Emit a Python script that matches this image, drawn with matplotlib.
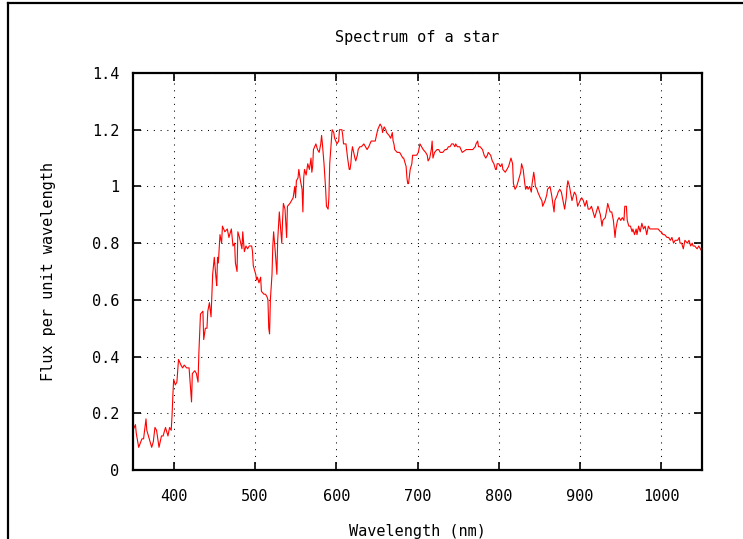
"""Spectrum of a star: flux per unit wavelength, gnuplot-like styling."""

import matplotlib

matplotlib.use("Agg")
import matplotlib.pyplot as plt
import matplotlib.ticker as mticker
from matplotlib.lines import Line2D

# Values.
wavelength_nm = [
    350, 353, 354, 357, 361, 363, 366, 367, 370, 373, 375, 377, 379, 382, 385,
    387, 390, 393, 395, 397, 398, 399, 400, 402, 404, 406, 409, 411, 413, 416,
    419, 422, 423, 426, 428, 430, 431, 433, 436, 437, 439, 441, 442, 444, 446,
    447, 448, 450, 452, 453, 454, 455, 457, 459, 460, 463, 466, 468, 471, 473,
    475, 476, 478, 479, 481, 484, 485, 487, 489, 491, 493, 496, 497, 498, 501,
    502, 503, 505, 507, 508, 511, 513, 515, 516, 517, 518, 519, 521, 522, 523,
    525, 527, 528, 530, 533, 534, 535, 537, 539, 540, 543, 545, 547, 549, 550,
    551, 553, 554, 556, 558, 559, 560, 561, 563, 565, 567, 569, 570, 571, 572,
    575, 577, 579, 581, 582, 583, 585, 587, 588, 590, 591, 592, 595, 597, 598,
    601, 603, 604, 607, 608, 609, 612, 614, 616, 617, 618, 619, 620, 623, 624,
    626, 627, 629, 631, 634, 636, 638, 640, 643, 645, 648, 651, 654, 656, 657,
    659, 661, 662, 665, 667, 669, 670, 671, 672, 675, 677, 678, 680, 682, 683,
    686, 687, 688, 689, 691, 693, 694, 697, 699, 701, 703, 705, 707, 710, 712,
    713, 715, 717, 718, 719, 721, 724, 726, 728, 731, 734, 736, 738, 740, 742,
    744, 746, 747, 749, 752, 755, 760, 764, 768, 771, 772, 774, 775, 777, 780,
    782, 784, 786, 787, 790, 792, 794, 796, 797, 798, 800, 802, 804, 805, 808,
    810, 812, 814, 815, 817, 818, 820, 822, 823, 825, 827, 828, 830, 832, 833,
    835, 836, 838, 840, 841, 843, 844, 845, 847, 848, 851, 853, 854, 857, 859,
    860, 863, 865, 867, 868, 869, 872, 873, 875, 877, 879, 881, 883, 884, 885,
    887, 890, 891, 893, 895, 897, 900, 902, 904, 906, 908, 910, 912, 914, 916,
    918, 920, 922, 925, 927, 928, 931, 933, 934, 937, 939, 941, 943, 944, 946,
    948, 950, 952, 954, 955, 957, 958, 960, 962, 964, 965, 967, 969, 970, 972,
    974, 976, 978, 980, 982, 984, 986, 988, 990, 993, 996, 999, 1000, 1002,
    1004, 1007, 1009, 1011, 1013, 1015, 1017, 1020, 1022, 1023, 1025, 1027,
    1029, 1032, 1034, 1036, 1038, 1039, 1041, 1044, 1046, 1048, 1050,
]
flux = [
    0.14, 0.16, 0.13, 0.08, 0.11, 0.11, 0.18, 0.14, 0.11, 0.08, 0.10, 0.15, 0.14, 0.08, 0.12,
    0.12, 0.15, 0.12, 0.15, 0.14, 0.19, 0.26, 0.32, 0.30, 0.31, 0.39, 0.37, 0.36, 0.37, 0.36,
    0.36, 0.24, 0.34, 0.35, 0.34, 0.31, 0.41, 0.55, 0.56, 0.46, 0.50, 0.50, 0.56, 0.59, 0.54,
    0.62, 0.69, 0.75, 0.68, 0.65, 0.75, 0.73, 0.83, 0.80, 0.86, 0.84, 0.85, 0.82, 0.85, 0.79,
    0.80, 0.73, 0.70, 0.84, 0.82, 0.78, 0.84, 0.77, 0.79, 0.78, 0.79, 0.79, 0.77, 0.72, 0.69,
    0.67, 0.68, 0.66, 0.68, 0.63, 0.62, 0.62, 0.61, 0.60, 0.50, 0.48, 0.60, 0.69, 0.79, 0.84,
    0.77, 0.69, 0.81, 0.91, 0.80, 0.88, 0.94, 0.92, 0.82, 0.93, 0.94, 0.95, 0.96, 1.00, 0.96,
    1.02, 1.03, 1.06, 1.02, 0.99, 0.91, 1.03, 1.06, 1.04, 1.08, 1.06, 1.10, 1.05, 1.07, 1.13,
    1.15, 1.13, 1.12, 1.15, 1.18, 1.15, 1.08, 0.99, 0.93, 0.92, 0.96, 1.08, 1.20, 1.19, 1.17,
    1.15, 1.16, 1.20, 1.20, 1.18, 1.15, 1.15, 1.10, 1.06, 1.06, 1.08, 1.12, 1.14, 1.10, 1.09,
    1.11, 1.13, 1.14, 1.14, 1.15, 1.14, 1.13, 1.14, 1.16, 1.16, 1.16, 1.20, 1.22, 1.21, 1.19,
    1.21, 1.20, 1.19, 1.18, 1.17, 1.19, 1.16, 1.15, 1.13, 1.12, 1.12, 1.12, 1.11, 1.10, 1.10,
    1.07, 1.03, 1.01, 1.01, 1.06, 1.08, 1.11, 1.11, 1.11, 1.12, 1.15, 1.14, 1.13, 1.12, 1.11,
    1.09, 1.10, 1.13, 1.16, 1.10, 1.12, 1.13, 1.13, 1.12, 1.12, 1.13, 1.13, 1.14, 1.14, 1.15,
    1.15, 1.14, 1.15, 1.14, 1.14, 1.12, 1.13, 1.13, 1.13, 1.14, 1.15, 1.16, 1.14, 1.14, 1.13,
    1.11, 1.10, 1.11, 1.12, 1.11, 1.09, 1.08, 1.06, 1.06, 1.08, 1.08, 1.07, 1.08, 1.06, 1.05,
    1.06, 1.07, 1.09, 1.10, 1.08, 1.01, 0.99, 1.00, 1.01, 1.03, 1.05, 1.08, 1.06, 1.01, 0.99,
    1.00, 0.99, 1.00, 0.98, 1.01, 1.05, 1.03, 1.00, 0.99, 0.98, 0.96, 0.95, 0.93, 0.95, 0.97,
    0.99, 1.00, 0.97, 0.93, 0.91, 0.95, 0.97, 0.98, 0.99, 0.98, 0.95, 0.92, 0.96, 1.00, 1.02,
    1.00, 0.95, 0.96, 0.98, 0.97, 0.93, 0.95, 0.96, 0.95, 0.93, 0.95, 0.92, 0.92, 0.93, 0.91,
    0.89, 0.91, 0.93, 0.90, 0.86, 0.88, 0.89, 0.92, 0.94, 0.91, 0.91, 0.88, 0.82, 0.85, 0.88,
    0.89, 0.88, 0.89, 0.88, 0.93, 0.93, 0.88, 0.86, 0.86, 0.84, 0.85, 0.83, 0.85, 0.83, 0.86,
    0.84, 0.87, 0.85, 0.86, 0.83, 0.86, 0.85, 0.85, 0.85, 0.85, 0.85, 0.84, 0.84, 0.83,
    0.83, 0.82, 0.82, 0.81, 0.82, 0.80, 0.81, 0.81, 0.82, 0.80, 0.80, 0.78,
    0.81, 0.80, 0.81, 0.79, 0.80, 0.79, 0.79, 0.78, 0.79, 0.78, 0.77,
]

x_ticks = [400, 500, 600, 700, 800, 900, 1000]
y_ticks = [0, 0.2, 0.4, 0.6, 0.8, 1.0, 1.2, 1.4]

title = "Spectrum of a star"
x_label = "Wavelength (nm)"
y_label = "Flux per unit wavelength"

W, H = 743, 539
DPI = 100

plt.rcParams["font.family"] = "DejaVu Sans Mono"
plt.rcParams["font.size"] = 11

fig = plt.figure(figsize=(W / DPI, H / DPI), dpi=DPI)
ax = fig.add_axes([133 / W, 1 - 470 / H, (702 - 133) / W, (470 - 73) / H])

ax.plot(wavelength_nm, flux, color="#ff0000", linewidth=0.8)

ax.set_xlim(350, 1050)
ax.set_ylim(0, 1.4)
ax.set_xticks(x_ticks)
ax.set_yticks(y_ticks)
ax.yaxis.set_major_formatter(mticker.FuncFormatter(lambda v, _: f"{v:g}"))

ax.tick_params(direction="in", length=6, width=1.2, top=True, right=True,
               labelsize=11, pad=10)
ax.tick_params(axis="x", pad=14)
for spine in ax.spines.values():
    spine.set_linewidth(1.6)

ax.grid(True, color="black", linewidth=0.75, linestyle=(0, (1, 5.5)))

ax.set_title(title, fontsize=11, pad=22)
ax.set_xlabel(x_label, fontsize=11, labelpad=14)
ax.set_ylabel(y_label, fontsize=11, labelpad=26)

# Window border of the original screenshot (left and top edges).
fig.add_artist(Line2D([8 / W, 8 / W], [0, 1 - 3 / H], color="black", linewidth=1.6))
fig.add_artist(Line2D([8 / W, 1], [1 - 3 / H, 1 - 3 / H], color="black", linewidth=1.6))

fig.savefig("out.png", dpi=DPI)
